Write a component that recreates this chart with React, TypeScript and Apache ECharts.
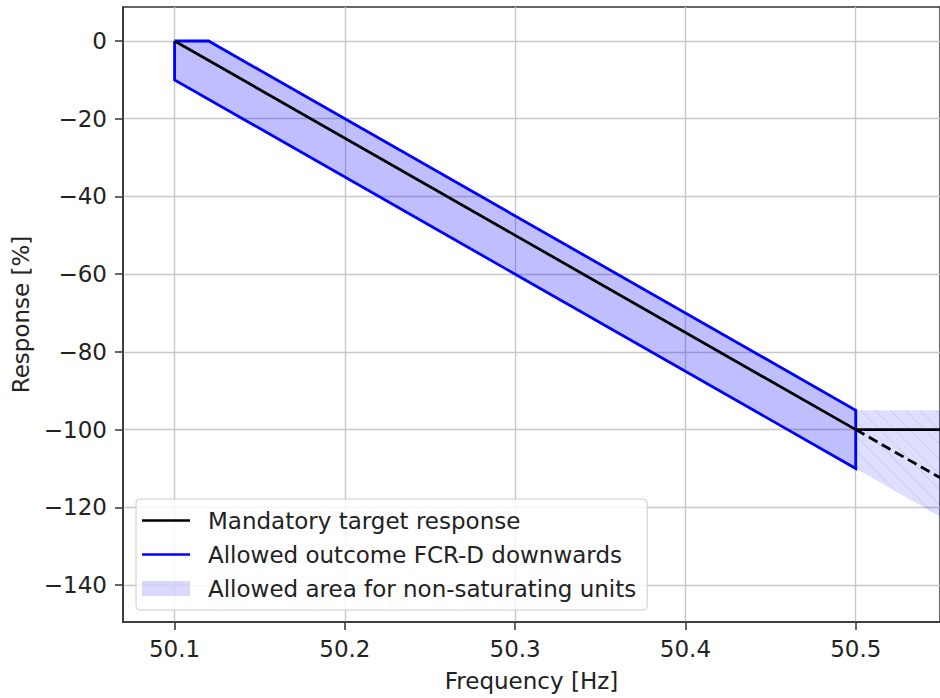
import { useEffect, useRef } from 'react';
import * as echarts from 'echarts';

const FONT = 'DejaVu Sans';
const FONT_SIZE = 23;

// Axis ticks
const xTicks = [50.1, 50.2, 50.3, 50.4, 50.5];
const yTicks = [-140, -120, -100, -80, -60, -40, -20, 0];

// Mandatory target response: linear droop, then saturation at -100 %
const targetFreq = [50.1, 50.5, 50.6];
const targetResp = [0, -100, -100];

// Continuation of the droop above 50.5 Hz
const droopExtFreq = [50.5, 50.6];
const droopExtResp = [-100, -125];

// Allowed outcome band for FCR-D downwards (closed outline)
const bandFreq = [50.1, 50.12, 50.5, 50.5, 50.1, 50.1];
const bandResp = [0, 0, -95, -110, -10, 0];

// Allowed area for non-saturating units
const areaFreq = [50.5, 50.6, 50.6, 50.5];
const areaResp = [-95, -95, -135, -110];

const NAME_TARGET = 'Mandatory target response';
const NAME_BAND = 'Allowed outcome FCR-D downwards';
const NAME_AREA = 'Allowed area for non-saturating units';

// Thin bar used as the legend handle of the line series
const LINE_ICON = 'path://M0 0H160V9H0Z';

const zip = (xs: number[], ys: number[]) => xs.map((x, i) => [x, ys[i]]);

// Hatch lines ("\" direction) clipped to a convex polygon in pixel space
function hatchLines(pts: number[][], spacing: number) {
  const cs = pts.map((p) => p[1] - p[0]);
  const cMin = Math.min(...cs);
  const cMax = Math.max(...cs);
  const out: number[][] = [];
  const start = Math.ceil(cMin / spacing) * spacing;
  for (let c = start; c <= cMax; c += spacing) {
    const hits: number[][] = [];
    for (let i = 0; i < pts.length; i++) {
      const a = pts[i];
      const b = pts[(i + 1) % pts.length];
      const den = (b[1] - a[1]) - (b[0] - a[0]);
      if (Math.abs(den) < 1e-9) continue;
      const s = (c - (a[1] - a[0])) / den;
      if (s >= 0 && s <= 1) {
        hits.push([a[0] + s * (b[0] - a[0]), a[1] + s * (b[1] - a[1])]);
      }
    }
    if (hits.length >= 2) {
      hits.sort((p, q) => p[0] - q[0]);
      const p = hits[0];
      const q = hits[hits.length - 1];
      out.push([p[0], p[1], q[0], q[1]]);
    }
  }
  return out;
}

export default function App() {
  const ref = useRef<HTMLDivElement>(null);

  useEffect(() => {
    if (!ref.current) return;
    const chart = echarts.init(ref.current, undefined, { renderer: 'svg' });

    const option: any = {
      animation: false,
      backgroundColor: '#ffffff',
      grid: {
        left: 123,
        top: 7,
        width: 824,
        height: 615,
        show: true,
        borderColor: '#333333',
        borderWidth: 1.5,
        backgroundColor: 'transparent',
      },
      legend: {
        data: [
          { name: NAME_TARGET, icon: LINE_ICON, itemStyle: { color: '#000000' } },
          { name: NAME_BAND, icon: LINE_ICON, itemStyle: { color: '#0000ff' } },
          { name: NAME_AREA, icon: 'rect', itemStyle: { color: 'rgba(0,0,255,0.15)' } },
        ],
        orient: 'vertical',
        left: 136,
        top: 499,
        itemWidth: 48,
        itemHeight: 15,
        itemGap: 9,
        symbolKeepAspect: true,
        padding: [9, 11, 9, 6],
        backgroundColor: 'rgba(255,255,255,0.8)',
        borderColor: '#cccccc',
        borderWidth: 1,
        borderRadius: 4,
        selectedMode: false,
        textStyle: {
          fontFamily: FONT,
          fontSize: FONT_SIZE,
          color: '#222222',
          lineHeight: 25,
          padding: [0, 0, 0, 13],
        },
      },
      xAxis: {
        type: 'value',
        min: 50.06972,
        max: 50.54948,
        name: 'Frequency [Hz]',
        nameLocation: 'middle',
        nameGap: 47,
        nameTextStyle: { fontFamily: FONT, fontSize: FONT_SIZE, color: '#222222' },
        axisLine: { show: true, onZero: false, lineStyle: { color: '#333333', width: 1.5 } },
        axisTick: {
          show: true,
          length: 8,
          customValues: xTicks,
          lineStyle: { color: '#333333', width: 1.5 },
        },
        axisLabel: {
          customValues: xTicks,
          margin: 15,
          fontFamily: FONT,
          fontSize: FONT_SIZE,
          color: '#222222',
          formatter: (v: number) => v.toFixed(1),
        },
        splitLine: { show: true, lineStyle: { color: '#c8c8c8', width: 1.4 } },
      },
      yAxis: {
        type: 'value',
        min: -149.5,
        max: 8.75,
        name: 'Response [%]',
        nameLocation: 'middle',
        nameGap: 90,
        nameTextStyle: { fontFamily: FONT, fontSize: FONT_SIZE, color: '#222222' },
        axisLine: { show: true, onZero: false, lineStyle: { color: '#333333', width: 1.5 } },
        axisTick: {
          show: true,
          length: 8,
          customValues: yTicks,
          lineStyle: { color: '#333333', width: 1.5 },
        },
        axisLabel: {
          customValues: yTicks,
          margin: 16,
          fontFamily: FONT,
          fontSize: FONT_SIZE,
          color: '#222222',
          formatter: (v: number) => String(v).replace('-', '\u2212'),
        },
        splitLine: { show: true, lineStyle: { color: '#c8c8c8', width: 1.4 } },
      },
      series: [
        {
          name: 'band-fill',
          type: 'custom',
          clip: true,
          z: 1,
          silent: true,
          data: [0],
          renderItem: (_p: any, api: any) => ({
            type: 'polygon',
            shape: { points: zip(bandFreq, bandResp).map((d) => api.coord(d)) },
            style: { fill: 'rgba(0,0,255,0.25)', stroke: 'none' },
          }),
        },
        {
          name: NAME_AREA,
          type: 'custom',
          clip: true,
          z: 1,
          silent: true,
          itemStyle: { color: 'rgba(0,0,255,0.15)' },
          data: [0],
          renderItem: (_p: any, api: any) => {
            const pts = zip(areaFreq, areaResp).map((d) => api.coord(d));
            const lines = hatchLines(pts, 15).map((l) => ({
              type: 'line',
              shape: { x1: l[0], y1: l[1], x2: l[2], y2: l[3] },
              style: { stroke: 'rgba(0,0,200,0.11)', lineWidth: 1 },
            }));
            return {
              type: 'group',
              children: [
                {
                  type: 'polygon',
                  shape: { points: pts },
                  style: { fill: 'rgba(0,0,255,0.13)', stroke: 'none' },
                },
                ...lines,
              ],
            };
          },
        },
        {
          name: NAME_BAND,
          type: 'line',
          z: 3,
          symbol: 'none',
          showSymbol: false,
          data: zip(bandFreq, bandResp),
          itemStyle: { color: '#0000ff' },
          lineStyle: { color: '#0000ff', width: 2.8, join: 'miter' },
        },
        {
          name: 'droop-ext',
          type: 'line',
          z: 4,
          symbol: 'none',
          showSymbol: false,
          data: zip(droopExtFreq, droopExtResp),
          itemStyle: { color: '#000000' },
          lineStyle: { color: '#000000', width: 2.8, type: [10, 5] },
        },
        {
          name: NAME_TARGET,
          type: 'line',
          z: 4,
          symbol: 'none',
          showSymbol: false,
          data: zip(targetFreq, targetResp),
          itemStyle: { color: '#000000' },
          lineStyle: { color: '#000000', width: 2.8 },
        },
      ],
    };

    chart.setOption(option);
    return () => chart.dispose();
  }, []);

  return (
    <div
      ref={ref}
      style={{ position: 'fixed', left: 0, top: 0, width: 940, height: 698, background: '#fff' }}
    />
  );
}
